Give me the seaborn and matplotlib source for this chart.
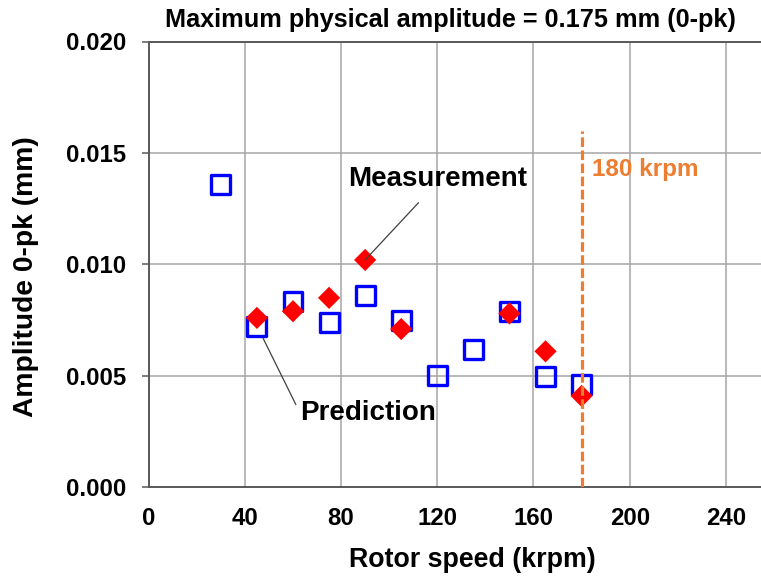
import matplotlib
matplotlib.use("Agg")
import matplotlib.pyplot as plt
import seaborn as sns
import pandas as pd
from matplotlib import font_manager

# Rotor-speed sweep: predicted vs. measured 0-pk amplitude
pred_speed = [30, 45, 60, 75, 90, 105, 120, 135, 150, 165, 180]
pred_amp = [0.0136, 0.0072, 0.00835, 0.0074, 0.0086, 0.0075,
            0.0050, 0.0062, 0.0079, 0.00495, 0.0046]
meas_speed = [45, 60, 75, 90, 105, 150, 165, 180]
meas_amp = [0.0076, 0.0079, 0.0085, 0.0102, 0.0071, 0.0078, 0.0061, 0.0041]

x_ticks = [0, 40, 80, 120, 160, 200, 240]
y_ticks = [0.000, 0.005, 0.010, 0.015, 0.020]
limit_speed = 180
limit_top = 0.016

title_text = "Maximum physical amplitude = 0.175 mm (0-pk)"
x_label = "Rotor speed (krpm)"
y_label = "Amplitude 0-pk (mm)"

pred_df = pd.DataFrame({"speed": pred_speed, "amp": pred_amp})
meas_df = pd.DataFrame({"speed": meas_speed, "amp": meas_amp})

sns.set_style("white")
plt.rcParams["font.family"] = ["Liberation Sans", "DejaVu Sans"]
plt.rcParams["font.weight"] = "bold"
plt.rcParams["text.color"] = "black"
plt.rcParams["axes.labelcolor"] = "black"

installed = {f.name for f in font_manager.fontManager.ttflist}
narrow = "Liberation Sans Narrow" if "Liberation Sans Narrow" in installed else None

fig = plt.figure(figsize=(7.61, 5.83), dpi=100)
ax = fig.add_axes([148.7 / 761, 1 - 487.3 / 583, 1 - 148.7 / 761, (487.3 - 41.5) / 583])

sns.scatterplot(data=pred_df, x="speed", y="amp", marker="s", s=187,
                facecolor="none", edgecolor="#0000FF", linewidth=2.4,
                ax=ax, zorder=3, legend=False)
sns.scatterplot(data=meas_df, x="speed", y="amp", marker="D", s=128,
                color="#FF0000", edgecolor="none", linewidth=0,
                ax=ax, zorder=4, legend=False)

ax.plot([limit_speed, limit_speed], [0, limit_top], color="#ED7D31",
        lw=2.3, ls=(0, (3.0, 1.1)), zorder=5)
ax.text(184.5, 0.01425, f"{limit_speed} krpm", color="#ED7D31",
        fontsize=17.5, fontweight="bold", va="center", ha="left")

ax.set_xlim(0, 254.6)
ax.set_ylim(0, 0.020)
ax.set_xticks(x_ticks)
ax.set_yticks(y_ticks)
ax.set_xticklabels([str(v) for v in x_ticks])
ax.set_yticklabels([f"{v:.3f}" for v in y_ticks])
ax.grid(True, color="#A6A6A6", lw=1.1)
ax.set_axisbelow(True)

ax.spines["right"].set_visible(False)
for side in ("left", "bottom", "top"):
    ax.spines[side].set_color("#595959")
    ax.spines[side].set_linewidth(1.4)

ax.tick_params(axis="both", which="major", direction="out", length=5,
               width=1.1, color="#595959", labelsize=17.3, labelcolor="black")
ax.tick_params(axis="x", pad=9)
ax.tick_params(axis="y", pad=11)
ax.tick_params(axis="x", top=False)
ax.tick_params(axis="y", left=True)

ax.set_xlabel(x_label, fontsize=19.3, fontweight="bold")
ax.xaxis.set_label_coords((472 - 148.7) / (761 - 148.7), -(560 - 487.3) / (487.3 - 41.5))
ax.xaxis.label.set_va("center")
ax.set_ylabel(y_label, fontsize=20.3, fontweight="bold")
ax.yaxis.set_label_coords(-(148.7 - 26) / (761 - 148.7), (487.3 - 276.5) / (487.3 - 41.5))
ax.yaxis.label.set_va("center")

ax.annotate("", xy=(90, meas_amp[3]), xytext=(112.2, 0.01277),
            arrowprops=dict(arrowstyle="-", color="#404040", lw=0.9,
                            shrinkA=0, shrinkB=0), zorder=6)
ax.text(120.3, 0.01385, "Measurement", fontsize=20, fontweight="bold",
        ha="center", va="center")

ax.annotate("", xy=(47.6, 0.00668), xytext=(61.2, 0.00371),
            arrowprops=dict(arrowstyle="-", color="#404040", lw=0.9,
                            shrinkA=0, shrinkB=0), zorder=6)
ax.text(63.0, 0.00335, "Prediction", fontsize=20, fontweight="bold",
        ha="left", va="center")

if narrow:
    title_font = dict(family=[narrow, "DejaVu Sans"], fontsize=19.5)
else:
    title_font = dict(family=["Liberation Sans", "DejaVu Sans"], fontsize=18.2)
fig.text(450 / 761, 1 - 20 / 583, title_text, fontweight="bold",
         ha="center", va="center", **title_font)

fig.savefig("out.png", dpi=100)
